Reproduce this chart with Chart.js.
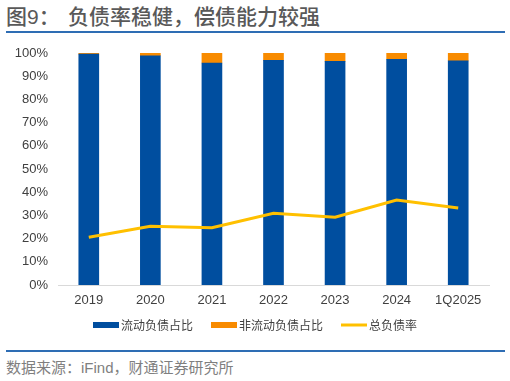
<!DOCTYPE html>
<html><head><meta charset="utf-8">
<script src="https://cdn.jsdelivr.net/npm/chart.js@4"></script>
<style>
html,body{margin:0;padding:0;background:#fff;}
#wrap{position:relative;width:510px;height:381px;overflow:hidden;font-family:"Liberation Sans","Noto Sans CJK SC",sans-serif;}
#title{position:absolute;left:6px;top:3px;font-size:21px;font-weight:500;color:#595959;white-space:nowrap;font-family:"Liberation Sans","Noto Sans CJK SC",sans-serif;line-height:28px;}
#title .b{position:absolute;left:62px;top:0;}
#l1{position:absolute;left:6px;top:31px;width:499px;height:2px;background:#2E6DB4;}
#l2{position:absolute;left:6px;top:350px;width:499px;height:2px;background:#2E6DB4;}
#src{position:absolute;left:6px;top:358px;font-size:15px;color:#7F7F7F;white-space:nowrap;font-family:"Liberation Sans","Noto Sans CJK SC",sans-serif;line-height:20px;}
canvas{position:absolute;left:0;top:0;}
</style></head><body>
<div id="wrap">
<div id="title"><span>图9：</span><span class="b">负债率稳健，偿债能力较强</span></div>
<div id="l1"></div>
<div id="l2"></div>
<div id="src">数据来源：iFind，财通证券研究所</div>
<canvas id="c" width="510" height="381"></canvas>
</div>
<script>
const categories = ['2019','2020','2021','2022','2023','2024','1Q2025'];
const currentShare = [99.5, 98.8, 95.7, 96.8, 96.4, 97.3, 96.6];
const nonCurrentShare = [0.5, 1.2, 4.3, 3.2, 3.6, 2.7, 3.4];
const debtRatio = [20.6, 25.3, 24.7, 30.9, 29.2, 36.6, 33.2];
const seriesNames = ['流动负债占比','非流动负债占比','总负债率'];

const FONT = '"Liberation Sans","Noto Sans CJK SC",sans-serif';

const legendPlugin = {
  id:'customLegend',
  afterDraw(chart){
    const ctx = chart.ctx;
    ctx.save();
    ctx.font = '12px "Noto Sans CJK SC",sans-serif';
    ctx.textBaseline = 'middle';
    const ds = chart.data.datasets;
    const items = [ds[1], ds[2], ds[0]];
    const sw = 26, gapT = 2, gapI = 18;
    const widths = items.map(d => sw + gapT + ctx.measureText(d.label).width);
    const total = widths.reduce((a,b)=>a+b,0) + gapI*(items.length-1);
    let x = (chart.width - total)/2;
    const y = 325;
    items.forEach((d,i)=>{
      if (d.type === 'line') {
        ctx.strokeStyle = d.borderColor; ctx.lineWidth = 3;
        ctx.beginPath(); ctx.moveTo(x, y); ctx.lineTo(x+sw, y); ctx.stroke();
      } else {
        ctx.fillStyle = d.backgroundColor;
        ctx.fillRect(x, y-3, sw, 6);
      }
      ctx.fillStyle = '#404040';
      ctx.fillText(d.label, x+sw+gapT, y+0.5);
      x += widths[i] + gapI;
    });
    ctx.restore();
  }
};

new Chart(document.getElementById('c'), {
  data: {
    labels: categories,
    datasets: [
      { type:'line', label: seriesNames[2], data: debtRatio, borderColor:'#FFC000', backgroundColor:'#FFC000',
        borderWidth:3, pointRadius:0, tension:0, order:0 },
      { type:'bar', label: seriesNames[0], data: currentShare, backgroundColor:'#004E9F', barThickness:20, stack:'s', order:1 },
      { type:'bar', label: seriesNames[1], data: nonCurrentShare, backgroundColor:'#F88B00', barThickness:20, stack:'s', order:1 }
    ]
  },
  options: {
    responsive:false, animation:false,
    layout:{ padding:{ left:0, right:21, top:53, bottom:66 } },
    plugins:{ legend:{display:false}, tooltip:{enabled:false}, title:{display:false} },
    scales:{
      x:{ stacked:true,
          grid:{ display:false, drawTicks:false },
          border:{ display:true, color:'#D9D9D9', width:1 },
          ticks:{ color:'#404040', font:{ family:FONT, size:13 }, padding:8, maxRotation:0 },
          afterFit(s){ s.height = 30; } },
      y:{ stacked:true, min:0, max:100,
          grid:{ display:false, drawTicks:false },
          border:{ display:false },
          ticks:{ stepSize:10, color:'#404040', font:{ family:FONT, size:13 }, padding:10,
                  callback:v=>v+'%' },
          afterFit(s){ s.width = 58; } }
    }
  },
  plugins:[legendPlugin]
});
</script>
</body></html>
